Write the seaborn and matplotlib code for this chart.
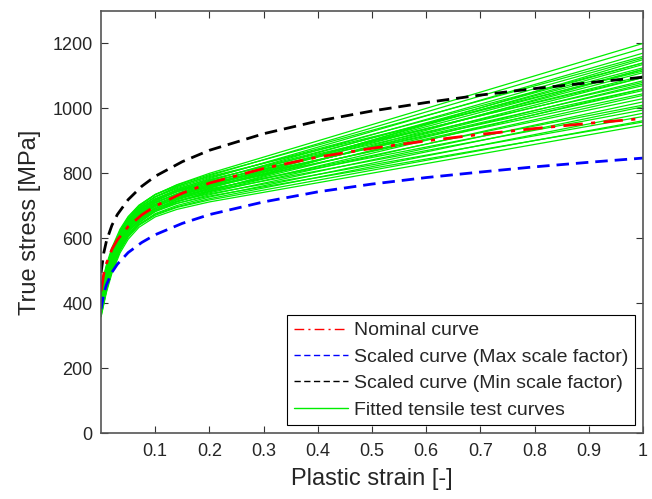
import numpy as np
import pandas as pd
import matplotlib
matplotlib.use("Agg")
import matplotlib.pyplot as plt
import seaborn as sns

# --- DATA ---
STRAIN_REF = [0, 0.005, 0.01, 0.02, 0.03, 0.05, 0.075, 0.1, 0.15, 0.2,
              0.3, 0.4, 0.5, 0.6, 0.7, 0.8, 0.9, 1.0]
NOMINAL = [437, 491, 523, 566, 595, 636, 672, 699, 739, 770,
           815, 850, 877, 900, 920, 938, 954, 969]
SCALED_MAX = [382, 429, 457, 495, 520, 556, 587, 611, 646, 673,
              712, 743, 767, 787, 804, 820, 834, 847]
SCALED_MIN = [494, 555, 592, 640, 673, 719, 760, 791, 836, 871,
              922, 961, 992, 1018, 1041, 1061, 1079, 1096]

STRAIN_FIT = [0, 0.01, 0.02, 0.035, 0.05, 0.07, 0.1, 0.14, 0.2, 1.0]
FITTED = [
    [358, 434, 492, 555, 597, 634, 666, 689, 712, 948],
    [372, 446, 502, 563, 604, 640, 671, 695, 718, 962],
    [388, 458, 511, 569, 608, 643, 674, 697, 722, 985],
    [365, 441, 499, 562, 605, 642, 676, 701, 727, 1005],
    [400, 471, 524, 582, 622, 656, 686, 708, 730, 958],
    [378, 452, 509, 570, 612, 649, 682, 707, 734, 1020],
    [412, 481, 533, 590, 629, 662, 692, 714, 737, 975],
    [392, 464, 518, 578, 618, 654, 687, 713, 740, 1040],
    [360, 440, 500, 566, 611, 650, 686, 714, 743, 1060],
    [420, 489, 540, 597, 635, 669, 699, 722, 745, 995],
    [383, 458, 514, 576, 619, 657, 691, 718, 748, 1075],
    [405, 477, 532, 591, 632, 667, 699, 724, 750, 1030],
    [430, 497, 548, 604, 642, 675, 705, 728, 752, 1010],
    [370, 449, 509, 575, 619, 659, 695, 724, 755, 1095],
    [396, 471, 528, 590, 632, 670, 703, 730, 757, 1055],
    [418, 487, 539, 596, 636, 671, 703, 730, 759, 1085],
    [440, 506, 556, 610, 648, 681, 711, 735, 761, 1045],
    [385, 462, 520, 584, 628, 667, 703, 732, 763, 1110],
    [408, 482, 538, 599, 640, 677, 711, 737, 765, 1070],
    [428, 495, 546, 602, 641, 676, 709, 736, 767, 1120],
    [448, 513, 563, 618, 655, 688, 718, 743, 769, 1060],
    [395, 470, 528, 590, 634, 673, 709, 738, 771, 1140],
    [415, 488, 543, 604, 645, 683, 716, 744, 773, 1100],
    [436, 505, 558, 615, 655, 690, 722, 747, 775, 1080],
    [402, 477, 533, 596, 639, 678, 714, 744, 777, 1155],
    [425, 496, 550, 609, 650, 687, 721, 748, 779, 1125],
    [445, 513, 565, 621, 660, 695, 727, 753, 781, 1095],
    [410, 484, 540, 602, 645, 684, 720, 750, 784, 1170],
    [432, 503, 557, 616, 657, 694, 728, 756, 787, 1140],
    [450, 519, 571, 628, 667, 702, 735, 761, 790, 1115],
    [420, 493, 549, 611, 654, 692, 728, 759, 793, 1185],
    [440, 511, 564, 623, 664, 701, 735, 764, 796, 1160],
    [425, 499, 555, 616, 659, 698, 734, 765, 800, 1200],
    [390, 464, 521, 583, 625, 664, 700, 729, 762, 1135],
    [415, 480, 529, 584, 622, 657, 691, 720, 754, 1150],
    [380, 452, 507, 568, 610, 647, 683, 712, 745, 1120],
]

LABELS = ["Nominal curve", "Scaled curve (Max scale factor)",
          "Scaled curve (Min scale factor)", "Fitted tensile test curves"]
X_TICKS = [0.1, 0.2, 0.3, 0.4, 0.5, 0.6, 0.7, 0.8, 0.9, 1.0]
X_TICK_LABELS = ["0.1", "0.2", "0.3", "0.4", "0.5", "0.6", "0.7", "0.8", "0.9", "1"]
Y_TICKS = [0, 200, 400, 600, 800, 1000, 1200]


def main():
    sns.set_style("ticks")
    plt.rcParams["font.family"] = ["Liberation Sans", "DejaVu Sans"]

    # long-form table for the fitted curves
    rows = []
    for i, curve in enumerate(FITTED):
        for e, s in zip(STRAIN_FIT, curve):
            rows.append({"curve": i, "strain": e, "stress": s})
    fit_df = pd.DataFrame(rows)
    ref_df = pd.DataFrame({"strain": STRAIN_REF, "nominal": NOMINAL,
                           "smax": SCALED_MAX, "smin": SCALED_MIN})

    fig = plt.figure(figsize=(6.52, 4.99), dpi=100)
    ax = fig.add_axes([0.155, 0.132, 0.831, 0.846])

    sns.lineplot(data=fit_df, x="strain", y="stress", units="curve",
                 estimator=None, color="#00ee00", lw=0.9, ax=ax)
    green = ax.lines[-1]

    sns.lineplot(data=ref_df, x="strain", y="nominal", color="red", lw=2,
                 ax=ax)
    red = ax.lines[-1]
    red.set_dashes([7, 3, 1.5, 3])
    sns.lineplot(data=ref_df, x="strain", y="smax", color="blue", lw=2, ax=ax)
    blue = ax.lines[-1]
    blue.set_dashes([4.5, 2.5])
    sns.lineplot(data=ref_df, x="strain", y="smin", color="black", lw=2,
                 ax=ax)
    black = ax.lines[-1]
    black.set_dashes([4.5, 2.5])

    ax.set_xlim(0, 1)
    ax.set_ylim(0, 1300)
    ax.set_xticks(X_TICKS)
    ax.set_xticklabels(X_TICK_LABELS)
    ax.set_yticks(Y_TICKS)
    ax.tick_params(direction="in", top=True, right=True, length=5,
                   labelsize=13, color="#333333")
    ax.tick_params(axis="x", pad=7)
    ax.tick_params(axis="y", pad=6)
    for sp in ax.spines.values():
        sp.set_color("#555555")
        sp.set_linewidth(1.2)

    ax.set_xlabel("Plastic strain [-]", fontsize=17, labelpad=6)
    ax.set_ylabel("True stress [MPa]", fontsize=17, labelpad=8)

    leg = ax.legend([red, blue, black, green], LABELS, loc="lower right",
                    fontsize=14, frameon=True, fancybox=False,
                    edgecolor="black", framealpha=1, handlelength=2.8,
                    borderaxespad=0.4, labelspacing=0.45, handletextpad=0.3,
                    borderpad=0.35)
    leg.get_frame().set_linewidth(0.8)
    for h in leg.get_lines():
        h.set_linewidth(1.0)

    fig.savefig("out.png", dpi=100)


if __name__ == "__main__":
    main()
